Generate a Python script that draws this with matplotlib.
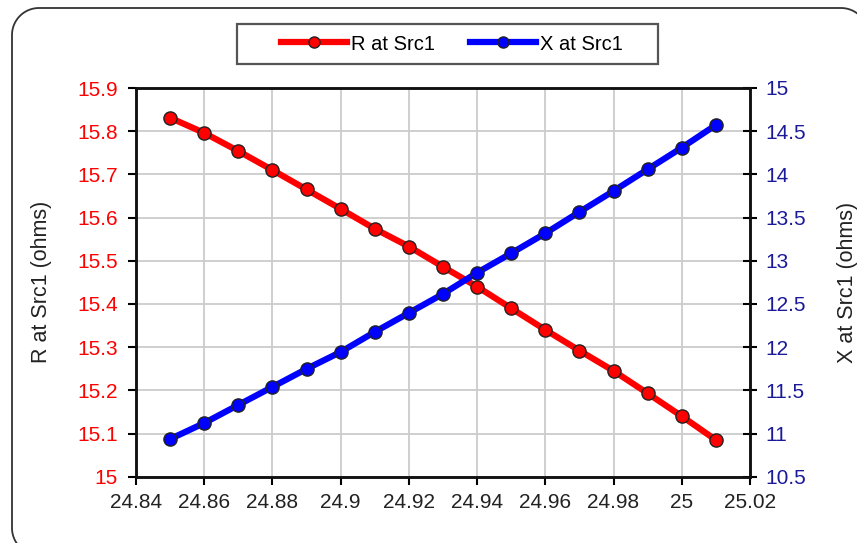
import matplotlib.pyplot as plt
import numpy as np
from matplotlib.lines import Line2D
from matplotlib.patches import Rectangle
from matplotlib.transforms import IdentityTransform

plt.rcParams['font.family'] = ['Liberation Sans', 'DejaVu Sans']

freq = [24.85, 24.86, 24.87, 24.88, 24.89, 24.90, 24.91, 24.92, 24.93,
        24.94, 24.95, 24.96, 24.97, 24.98, 24.99, 25.00, 25.01]
r_src1 = [15.831, 15.796, 15.754, 15.710, 15.665, 15.620, 15.574, 15.533, 15.486,
          15.440, 15.390, 15.340, 15.292, 15.245, 15.193, 15.140, 15.085]
x_src1 = [10.936, 11.121, 11.331, 11.539, 11.748, 11.944, 12.176, 12.396, 12.616,
          12.862, 13.087, 13.318, 13.565, 13.808, 14.059, 14.309, 14.572]

W, H = 857, 543
fig = plt.figure(figsize=(W / 100, H / 100), dpi=100)

# rounded outer frame in pixel units; right and bottom edges run off the image
rad = 27
x0, x1, y0, y1 = 12, 868, -12, H - 8
fx, fy = [], []
for cx, cy, a_start, a_end in [(x0 + rad, y0 + rad, 1.5 * np.pi, np.pi),
                               (x0 + rad, y1 - rad, np.pi, 0.5 * np.pi),
                               (x1 - rad, y1 - rad, 0.5 * np.pi, 0.0)]:
    a = np.linspace(a_start, a_end, 24)
    fx.extend(cx + rad * np.cos(a))
    fy.extend(cy + rad * np.sin(a))
fx.append(x1)
fy.append(y0)
fig.lines.append(Line2D(fx, fy, transform=IdentityTransform(), color='#333333',
                        lw=1.3, zorder=0))

ax = fig.add_axes([136 / W, 1 - 476.7 / H, 614 / W, 388.7 / H])
ax2 = ax.twinx()

l1, = ax.plot(freq, r_src1, '-o', color='#ff0000', lw=4.5, ms=9.5,
              markeredgecolor='#222222', markeredgewidth=1.0, label='R at Src1',
              clip_on=False, zorder=3)
l2, = ax2.plot(freq, x_src1, '-o', color='#0000ff', lw=4.5, ms=9.5,
               markeredgecolor='#222222', markeredgewidth=1.0, label='X at Src1',
               clip_on=False, zorder=3)

ax.set_xlim(24.84, 25.02)
ax.set_ylim(15.0, 15.9)
ax2.set_ylim(10.5, 15.0)
ax.set_xticks(np.arange(24.84, 25.021, 0.02))
ax.set_xticklabels(['24.84', '24.86', '24.88', '24.9', '24.92', '24.94',
                    '24.96', '24.98', '25', '25.02'])
ax.set_yticks(np.arange(15.0, 15.91, 0.1))
ax.set_yticklabels(['15', '15.1', '15.2', '15.3', '15.4', '15.5', '15.6',
                    '15.7', '15.8', '15.9'])
ax2.set_yticks(np.arange(10.5, 15.01, 0.5))
ax2.set_yticklabels(['10.5', '11', '11.5', '12', '12.5', '13', '13.5',
                     '14', '14.5', '15'])

ax.grid(True, color='#cccccc', lw=1.3)
ax.set_axisbelow(True)

ax.tick_params(axis='x', direction='out', length=6, width=1.5, labelsize=15,
               labelcolor='#222222', pad=6)
ax.tick_params(axis='y', direction='out', length=6, width=1.5, labelsize=15,
               labelcolor='#ff0000', pad=7)
ax2.tick_params(axis='y', direction='inout', length=10, width=1.5, labelsize=15,
                labelcolor='#1a1a99', pad=6)

for a in (ax, ax2):
    for s in a.spines.values():
        s.set_linewidth(1.8)
        s.set_color('#111111')

ax.set_ylabel('R at Src1 (ohms)', fontsize=15.5, color='#222222', labelpad=18)
ax2.set_ylabel('X at Src1 (ohms)', fontsize=15.5, color='#222222', labelpad=22,
               rotation=90)

# legend box drawn by hand so the horizontal padding matches
legbox = Rectangle((237, H - 64), 421, 40, transform=IdentityTransform(),
                   fill=True, facecolor='white', edgecolor='#555555', lw=1.6,
                   zorder=5)
fig.patches.append(legbox)
leg = fig.legend(handles=[l1, l2], loc='center', bbox_to_anchor=(452 / W, 1 - 44 / H),
                 ncol=2, fontsize=14.5, handlelength=3.3, columnspacing=1.7,
                 frameon=False, handletextpad=0.2)
leg.set_zorder(6)
for h in leg.legend_handles:
    h.set_markersize(8)

fig.savefig('out.png', dpi=100)
